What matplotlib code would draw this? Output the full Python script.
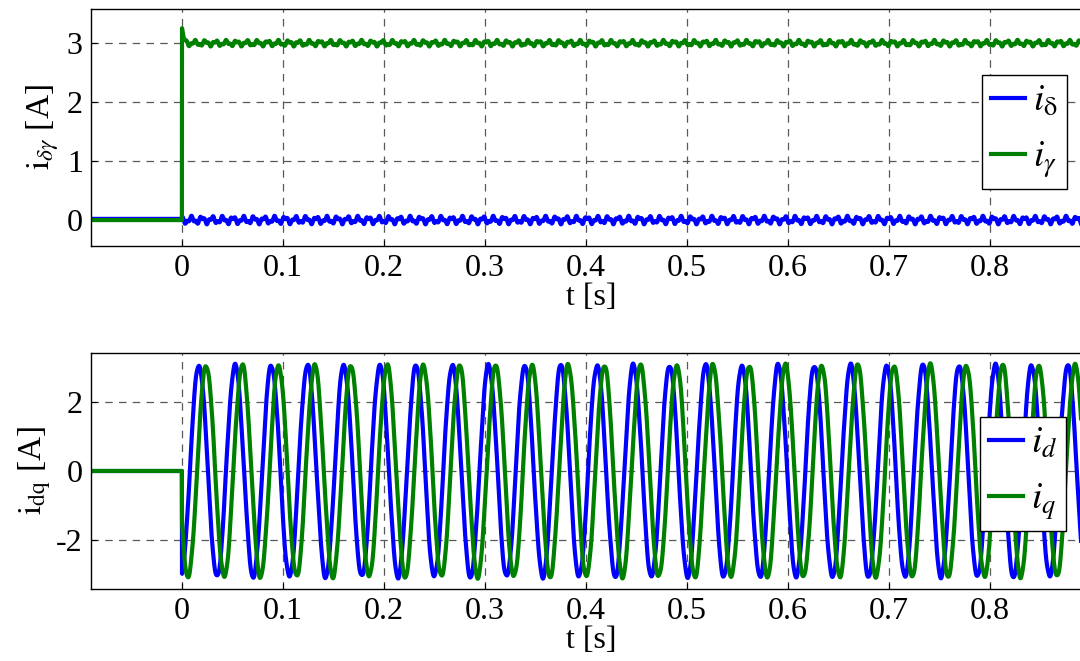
import matplotlib
matplotlib.use("Agg")
import matplotlib.pyplot as plt
import numpy as np

# values
t_start, t_end = -0.09, 0.9
t_step = 0.0              # the current command starts at t = 0
i_gamma_ref = 3.0         # steady i_gamma [A]
i_gamma_peak = 3.25       # overshoot right after the step
i_delta_ref = 0.0
i_pre = 0.02              # tiny offset before the step
ripple_amp = 0.035        # current ripple [A]
ripple_freq = [97.0, 231.0]
dq_amp = 3.05             # amplitude of i_d / i_q [A]
dq_freq = 27.9            # electrical frequency [Hz]
dq_lag = 0.0072           # i_q lags i_d by this much [s]
id_first_peak = 0.0168    # first peak of i_d [s]

xticks = [0, 0.1, 0.2, 0.3, 0.4, 0.5, 0.6, 0.7, 0.8]
xticklabels = ["0", "0.1", "0.2", "0.3", "0.4", "0.5", "0.6", "0.7", "0.8"]
yticks_top = [0, 1, 2, 3]
yticks_bot = [-2, 0, 2]
ylabels_bot = ["-2", "0", "2"]

t = np.linspace(t_start, t_end, 8000)
on = t >= t_step
ripple1 = ripple_amp * (np.sin(2*np.pi*ripple_freq[0]*t) + 0.6*np.sin(2*np.pi*ripple_freq[1]*t + 1.0))
ripple2 = ripple_amp * (np.sin(2*np.pi*ripple_freq[0]*t + 2.1) + 0.6*np.sin(2*np.pi*ripple_freq[1]*t + 0.4))

i_gamma = np.where(on, i_gamma_ref + (i_gamma_peak - i_gamma_ref)*np.exp(-(t - t_step)/0.0015) + ripple1, 0.0)
i_delta = np.where(on, i_delta_ref + 1.3*ripple2, i_pre)

w = 2*np.pi*dq_freq
i_d = np.where(on, dq_amp*np.cos(w*(t - id_first_peak)) + ripple1, 0.0)
i_q = np.where(on, dq_amp*np.cos(w*(t - id_first_peak - dq_lag)) + ripple2, 0.0)

plt.rcParams['font.family'] = ['Liberation Serif', 'DejaVu Serif']
plt.rcParams['mathtext.fontset'] = 'stix'
fs = 23

fig = plt.figure(figsize=(10.8, 6.61), dpi=100)
ax1 = fig.add_axes([91/1080, 1 - 246/661, 1000/1080, 237/661])
ax2 = fig.add_axes([91/1080, 1 - 589/661, 1000/1080, 236/661])

blue = (0, 0, 1)
green = (0, 0.5, 0)
lw = 3.0

ax1.plot(t, i_delta, color=blue, lw=lw, label=r'$i_{\mathrm{\delta}}$')
ax1.plot(t, i_gamma, color=green, lw=lw, label=r'$i_{\gamma}$')
ax1.set_ylim(-0.44, 3.58)
ax1.set_yticks(yticks_top)
ax1.set_ylabel(r'$\mathrm{i}_{\delta\gamma}$ [A]', fontsize=fs + 1)

ax2.plot(t, i_d, color=blue, lw=lw, label=r'$i_{d}$')
ax2.plot(t, i_q, color=green, lw=lw, label=r'$i_{q}$')
ax2.set_ylim(-3.4, 3.4)
ax2.set_yticks(yticks_bot)
ax2.set_yticklabels(ylabels_bot)
ax2.set_ylabel(r'$\mathrm{i}_{\mathrm{dq}}$ [A]', fontsize=fs + 1, labelpad=2)

legpos = [(0.891, 0.7215), (0.889, 0.729)]
for ax, lp in zip([ax1, ax2], legpos):
    ax.set_xlim(t_start, t_end)
    ax.set_xticks(xticks)
    ax.set_xticklabels(xticklabels)
    ax.set_xlabel('t [s]', fontsize=fs, labelpad=0)
    ax.tick_params(labelsize=fs, direction='in', length=4, pad=6)
    ax.grid(True, color='0.35', linestyle=(0, (6, 5)), linewidth=0.9)
    for s in ax.spines.values():
        s.set_linewidth(1.0)
    leg = ax.legend(loc='upper left', bbox_to_anchor=lp, fontsize=27,
                    handlelength=0.9, handletextpad=0.2, labelspacing=0.55,
                    borderpad=0.25, borderaxespad=0, fancybox=False,
                    framealpha=1, edgecolor='black')
    leg.get_frame().set_linewidth(1.0)
    for ln in leg.get_lines():
        ln.set_linewidth(3.0)

fig.savefig('out.png', dpi=100)
